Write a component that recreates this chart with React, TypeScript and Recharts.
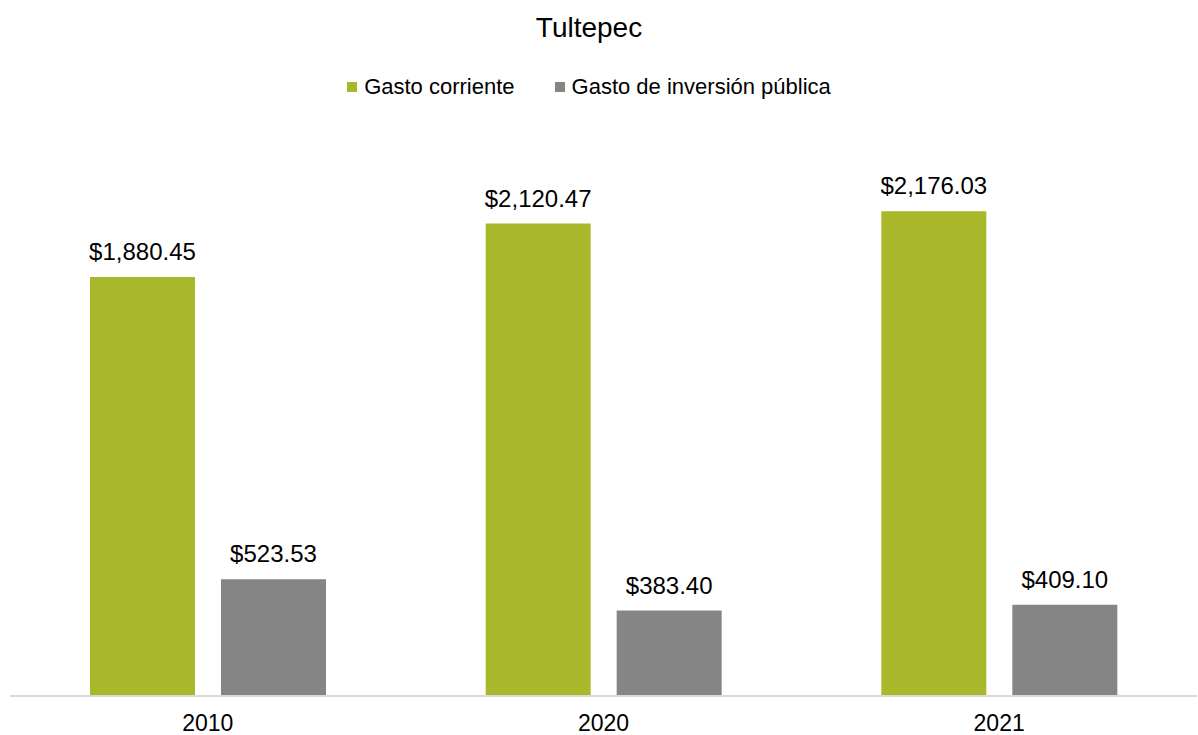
import React from "react";
import { BarChart, Bar, XAxis, YAxis, LabelList } from "recharts";

const categories = ["2010", "2020", "2021"];
const gastoCorriente = [1880.45, 2120.47, 2176.03];
const gastoInversion = [523.53, 383.4, 409.1];
const seriesNames = ["Gasto corriente", "Gasto de inversión pública"];
const colors = ["#a8b82a", "#858585"];

const data = categories.map((c, i) => ({
  year: c,
  corriente: gastoCorriente[i],
  inversion: gastoInversion[i],
}));

const fmt = (v: any) =>
  "$" + Number(v).toLocaleString("en-US", { minimumFractionDigits: 2, maximumFractionDigits: 2 });

const FONT = "'Liberation Sans', Arial, sans-serif";

export default function App() {
  return (
    <div style={{ position: "absolute", left: 0, top: 0, width: 1198, height: 735, background: "#fff" }}>
      <div
        style={{
          position: "absolute",
          top: 0,
          left: 0,
          width: 1178,
          height: 110,
          display: "flex",
          flexDirection: "column",
          alignItems: "center",
          fontFamily: FONT,
          color: "#000",
        }}
      >
        <div style={{ fontSize: 28, lineHeight: "28px", marginTop: 14 }}>Tultepec</div>
        <div style={{ display: "flex", alignItems: "center", fontSize: 22, lineHeight: "22px", marginTop: 34 }}>
          {seriesNames.map((n, i) => (
            <div key={n} style={{ display: "flex", alignItems: "center", marginRight: i === 0 ? 40 : 0 }}>
              <span style={{ display: "inline-block", width: 10, height: 10, background: colors[i], marginRight: 7 }} />
              <span>{n}</span>
            </div>
          ))}
        </div>
      </div>
      <BarChart
        width={1198}
        height={735}
        data={data}
        margin={{ top: 139, right: 1, bottom: 9, left: 10 }}
        barCategoryGap={80}
        barGap={26}
        style={{ position: "absolute", left: 0, top: 0 }}
      >
        <YAxis hide domain={[0, 2500]} />
        <XAxis
          dataKey="year"
          height={30}
          tickLine={false}
          axisLine={{ stroke: "#d9d9d9", strokeWidth: 2 }}
          tick={{ fill: "#000", fontSize: 23, fontFamily: FONT }}
          tickMargin={13}
        />
        <Bar dataKey="corriente" name={seriesNames[0]} fill={colors[0]} isAnimationActive={false}>
          <LabelList dataKey="corriente" position="top" offset={17} formatter={fmt} style={{ fill: "#000", fontSize: 24, fontFamily: FONT }} />
        </Bar>
        <Bar dataKey="inversion" name={seriesNames[1]} fill={colors[1]} isAnimationActive={false}>
          <LabelList dataKey="inversion" position="top" offset={17} formatter={fmt} style={{ fill: "#000", fontSize: 24, fontFamily: FONT }} />
        </Bar>
      </BarChart>
    </div>
  );
}
